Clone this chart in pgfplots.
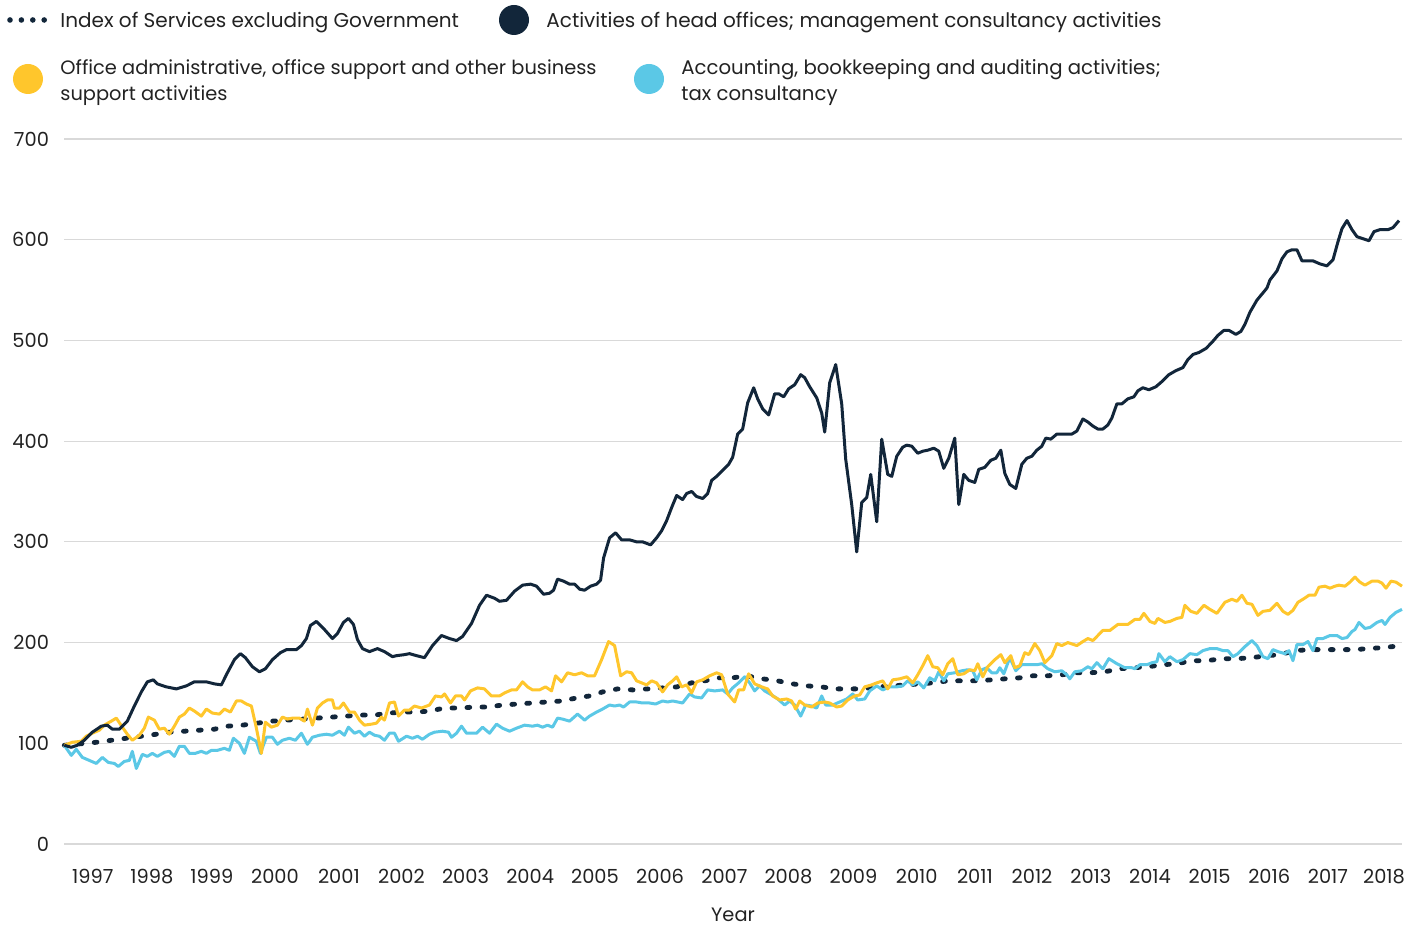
\documentclass[border=0pt]{standalone}
\usepackage{fontspec}
\setmainfont{Poppins}
\usepackage{pgfplots}
\usepackage{pgfplotstable}
\pgfplotsset{compat=1.18}
\definecolor{navy}{HTML}{12263A}
\definecolor{gold}{HTML}{FFC62C}
\definecolor{sky}{HTML}{5BC8E6}
\definecolor{gridc}{HTML}{D9D9D9}
\definecolor{txt}{HTML}{222222}

\pgfplotstableread{
x y
65 98
72 96
78 98
85 103
93 111
102 117
108 118
113 114
120 114
128 122
135 137
142 151
148 161
154 163
158 159
167 156
177 154
187 157
195 161
207 161
215 159
222 158
228 170
235 183
241 189
246 185
253 176
260 171
266 174
273 183
281 190
287 193
297 193
302 197
307 204
311 217
317 221
325 213
333 204
338 209
344 220
349 224
354 218
358 203
363 194
370 191
378 194
385 191
393 186
397 187
405 188
410 189
417 187
425 185
433 197
442 207
450 204
457 202
463 206
472 219
480 237
487 247
495 244
500 241
507 242
515 251
523 257
531 258
537 256
544 248
550 249
554 252
558 263
564 261
570 258
575 258
580 253
585 252
591 256
597 258
601 262
604 284
610 304
616 309
622 302
630 302
637 300
643 300
651 297
657 304
662 311
667 321
672 334
677 346
683 342
687 348
692 350
697 345
703 343
708 348
712 361
717 365
723 371
729 377
733 384
738 407
743 412
748 438
754 453
758 442
763 432
769 426
775 447
779 447
784 444
789 452
795 456
801 466
805 463
810 454
817 443
822 428
825 409
830 458
836 476
842 437
846 382
852 337
857 290
862 339
867 344
871 367
877 320
882 402
888 367
892 365
897 385
903 394
907 396
912 395
918 388
923 390
928 391
934 393
939 390
944 373
949 383
955 403
959 337
964 367
969 361
975 359
979 372
985 374
991 381
996 383
1001 391
1005 368
1010 357
1016 353
1022 377
1027 383
1032 385
1037 391
1042 395
1046 403
1051 402
1057 407
1063 407
1072 407
1077 410
1083 422
1088 419
1093 415
1098 412
1103 412
1108 416
1112 423
1117 437
1122 437
1128 442
1134 444
1138 450
1143 453
1149 451
1156 454
1163 460
1169 466
1176 470
1183 473
1188 481
1193 486
1199 488
1206 492
1212 498
1218 505
1224 510
1229 510
1236 506
1241 509
1245 516
1250 528
1257 540
1262 546
1267 552
1270 560
1277 569
1282 581
1287 588
1292 590
1297 590
1302 579
1308 579
1313 579
1320 576
1327 574
1333 580
1338 598
1342 611
1347 619
1352 610
1357 603
1363 601
1369 599
1374 608
1380 610
1388 610
1393 612
1399 619
}\headoffices

\pgfplotstableread{
x y
65 98
73 101
82 102
87 107
93 110
100 113
105 118
112 122
117 125
123 116
128 109
133 103
140 108
145 115
149 126
155 123
160 114
165 115
170 109
175 117
180 126
185 129
190 135
195 132
202 127
207 134
213 130
220 129
225 134
231 131
237 142
242 142
247 139
252 137
257 115
262 90
266 121
272 116
278 118
283 126
288 124
293 125
300 125
305 122
308 134
313 118
318 135
323 140
328 143
333 143
335 135
340 135
344 140
350 131
355 131
360 123
365 118
372 119
377 120
382 126
385 123
390 140
395 141
399 127
405 133
410 133
415 137
422 135
430 138
436 147
442 146
445 149
451 140
456 147
462 147
465 143
471 152
478 155
485 154
492 147
500 147
505 150
512 153
517 153
523 161
528 156
533 153
540 153
546 156
552 152
556 167
562 161
568 170
575 168
582 170
588 167
595 167
602 183
609 201
615 197
621 167
627 171
632 170
637 162
642 160
647 158
652 162
657 160
663 151
668 158
673 162
677 166
682 156
687 158
692 150
697 161
703 163
710 167
717 170
722 168
728 149
735 141
739 153
744 153
749 169
755 159
762 156
768 154
773 147
780 143
787 144
792 142
796 134
800 142
805 138
812 136
818 140
825 141
830 140
837 136
842 137
848 143
855 147
860 148
865 156
872 158
877 160
883 162
888 154
893 163
900 164
907 166
913 160
918 168
923 177
928 187
933 176
938 175
943 168
948 179
953 184
958 168
964 169
970 173
975 172
978 179
983 166
988 176
995 183
1001 188
1005 180
1011 187
1015 175
1020 177
1025 190
1029 188
1035 199
1040 192
1045 180
1052 187
1057 199
1062 197
1068 200
1077 197
1083 201
1088 204
1093 202
1098 207
1103 212
1110 212
1118 218
1128 218
1135 223
1140 223
1144 229
1150 221
1155 219
1158 224
1165 220
1170 221
1177 224
1182 225
1185 237
1191 231
1197 229
1204 237
1210 233
1217 229
1225 240
1232 243
1237 241
1242 247
1247 239
1252 238
1258 227
1263 231
1270 232
1277 239
1283 231
1288 228
1293 232
1298 240
1303 243
1309 247
1315 247
1319 255
1325 256
1330 254
1335 256
1339 257
1345 256
1350 260
1355 265
1360 260
1365 257
1372 261
1378 261
1382 259
1386 254
1391 261
1396 260
1402 256
}\officeadmin

\pgfplotstableread{
x y
65 98
72 88
77 94
83 86
90 83
97 80
103 86
109 81
115 80
119 77
125 82
130 83
133 92
137 75
143 89
148 87
153 90
158 87
165 91
170 92
175 87
180 97
185 97
190 90
196 90
202 92
207 90
212 93
218 93
225 95
230 93
234 105
240 100
245 90
250 106
257 102
261 90
267 106
273 106
278 99
283 103
290 105
296 103
302 110
308 99
313 106
320 108
327 109
333 108
340 112
345 108
349 116
355 110
360 112
365 107
370 111
375 108
380 107
385 103
390 110
395 110
399 102
407 107
413 105
418 107
423 104
430 109
435 111
443 112
449 111
452 106
457 110
462 117
467 110
477 110
483 116
490 110
497 119
503 115
510 112
517 115
525 118
533 117
538 118
543 116
548 118
553 116
558 125
563 124
570 122
578 129
585 123
590 127
597 131
603 134
610 138
615 137
620 138
624 136
630 141
637 141
643 140
650 140
656 139
663 142
668 141
673 142
678 141
683 140
690 149
695 146
702 145
708 153
715 152
723 153
728 149
733 155
739 160
745 166
750 160
755 152
760 157
765 152
772 148
778 144
785 138
790 142
795 138
801 127
806 138
812 137
817 135
822 147
826 138
833 138
840 141
847 144
853 149
858 143
865 144
870 152
877 157
883 153
890 156
897 156
903 157
908 162
913 158
918 161
924 155
930 165
935 162
939 171
944 162
948 169
955 170
962 172
968 173
973 172
977 163
982 173
987 175
992 170
997 170
1000 175
1004 169
1010 185
1016 172
1022 178
1028 178
1037 178
1042 179
1048 174
1055 171
1062 172
1067 168
1070 164
1075 171
1082 172
1088 176
1092 174
1097 180
1103 174
1109 184
1117 179
1125 175
1132 175
1135 174
1140 178
1147 178
1152 180
1157 181
1159 189
1165 181
1170 186
1177 181
1183 183
1190 189
1197 188
1203 192
1210 194
1217 194
1223 192
1228 192
1233 186
1238 189
1245 196
1252 202
1257 197
1263 186
1268 184
1273 193
1278 191
1285 189
1289 192
1293 182
1297 198
1303 198
1308 201
1313 192
1317 204
1323 204
1330 207
1337 207
1342 204
1347 205
1352 211
1355 213
1359 220
1365 214
1370 215
1377 220
1382 222
1385 218
1390 225
1396 230
1402 233
}\accounting

\pgfplotstableread{
x y
65 98
97 101
112 103
127 105
142 107
157 109
170 111
185 112
200 113
215 114
228 117
243 118
258 120
273 122
287 123
302 124
317 125
332 126
347 127
360 128
375 128
390 130
403 131
417 131
430 132
445 135
460 135
475 136
488 136
503 138
518 139
532 140
547 141
562 142
577 145
590 147
603 151
618 154
633 153
648 154
663 155
677 156
692 160
705 162
720 165
733 165
747 167
763 164
778 162
793 159
807 157
822 156
835 154
848 154
863 154
877 156
892 157
907 158
920 159
933 160
948 162
962 162
977 162
992 163
1005 164
1020 165
1033 167
1047 167
1062 168
1075 170
1090 170
1105 171
1120 174
1133 175
1148 176
1163 178
1177 179
1192 182
1207 182
1222 184
1237 184
1252 185
1267 187
1280 188
1295 192
1310 193
1325 193
1340 193
1355 193
1368 194
1383 195
1402 197
}\services

\begin{document}
\begin{tikzpicture}[x=1pt,y=1pt]
\useasboundingbox (0,0) rectangle (704,463);
\begin{axis}[
  at={(32pt,41pt)}, anchor=south west,
  scale only axis, width=669pt, height=352.5pt,
  xmin=64.7, xmax=1402, ymin=0, ymax=700,
  axis line style={draw=none},
  ytick={0,100,...,700},
  ymajorgrids, grid style={gridc, line width=0.6pt},
  tick align=outside,
  major tick length=0pt,
  ytick style={draw=none},
  xtick style={draw=none},
  xtick={93.5,152.5,212.5,275.6,339.5,402,466,530.6,595.4,660.5,724.8,788.7,853.8,917,975.1,1032.2,1091,1150.1,1209.7,1269.3,1328,1384},
  xticklabels={1997,1998,1999,2000,2001,2002,2003,2004,2005,2006,2007,2008,2009,2010,2011,2012,2013,2014,2015,2016,2017,2018},
  extra x ticks={64.7,122.3,182.6,242.4,308.9,370.1,433.9,498.2,563.0,627.7,693.3,756.4,821.0,886.5,947.4,1002.9,1061.6,1120.3,1179.9,1239.5,1299.1,1356.9},
  extra x tick labels={},
  extra x tick style={major tick length=4.5pt, tick style={draw=gridc, line width=0.6pt}},
  /pgf/number format/assume math mode=true,
  ticklabel style={font=\fontsize{9.7}{11}\selectfont, text=txt},
  yticklabel style={xshift=-4pt},
  xticklabel style={yshift=-9pt},
  xlabel={Year},
  xlabel style={font=\fontsize{9.7}{11}\selectfont, text=txt, inner sep=0pt, at={(axis description cs:0.5,0)}, anchor=center, yshift=-35.5pt},
  clip=false,
]
\addplot[navy, line width=2.4pt, dash pattern=on 1.4pt off 6.1pt, line cap=round] table {\services};
\addplot[sky, line width=1.5pt, line join=round] table {\accounting};
\addplot[gold, line width=1.5pt, line join=round] table {\officeadmin};
\addplot[navy, line width=1.5pt, line join=round] table {\headoffices};
\end{axis}
% legend
\foreach \xx in {5,10.7,16.4,22.1} \fill[navy] (\xx,453) circle (1.4pt);
\node[anchor=west, inner sep=0, text=txt, font=\fontsize{10}{13}\selectfont] at (30,451.5) {Index of Services excluding Government};
\fill[navy] (257,453) circle (7.5pt);
\node[anchor=west, inner sep=0, text=txt, font=\fontsize{10}{13}\selectfont] at (273,451.5) {Activities of head offices; management consultancy activities};
\fill[gold] (14,423.5) circle (7.5pt);
\node[anchor=west, inner sep=0, text=txt, align=left, font=\fontsize{9.7}{13}\selectfont] at (30,421.5) {Office administrative, office support and other business\\support activities};
\fill[sky] (324.5,423.5) circle (7.5pt);
\node[anchor=west, inner sep=0, text=txt, align=left, font=\fontsize{9.85}{13}\selectfont] at (340.5,421.5) {Accounting, bookkeeping and auditing activities;\\tax consultancy};
\end{tikzpicture}
\end{document}
